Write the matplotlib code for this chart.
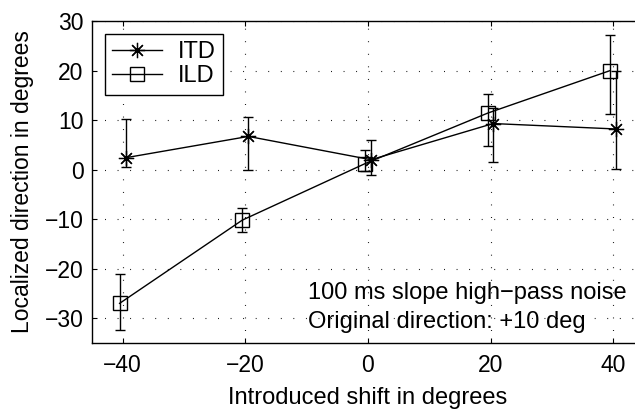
import numpy as np
import matplotlib
matplotlib.use("Agg")
import matplotlib.pyplot as plt

plt.rcParams['font.family'] = ['Liberation Sans', 'DejaVu Sans']

# values (small x offsets so the bars do not overlap)
itd_x = [-39.5, -19.5, 0.5, 20.4, 40.5]
itd_y = [2.4, 6.7, 2.0, 9.3, 8.2]
itd_lo = [0.6, 0.0, -1.1, 1.5, 0.1]
itd_hi = [10.3, 10.6, 6.0, 12.5, 20.0]

ild_x = [-40.5, -20.5, -0.5, 19.5, 39.5]
ild_y = [-27.0, -10.2, 1.2, 11.4, 20.0]
ild_lo = [-32.4, -12.6, -0.2, 4.8, 11.2]
ild_hi = [-21.0, -7.7, 4.0, 15.3, 27.1]

x_ticks = [-40, -20, 0, 20, 40]
y_ticks = [-30, -20, -10, 0, 10, 20, 30]

fig = plt.figure(figsize=(6.35, 4.09), dpi=100)
ax = fig.add_axes([92 / 635, 66 / 409, 552 / 635, 322 / 409])

asterisk = (8, 2, 0)

itd_err = [np.array(itd_y) - np.array(itd_lo), np.array(itd_hi) - np.array(itd_y)]
ild_err = [np.array(ild_y) - np.array(ild_lo), np.array(ild_hi) - np.array(ild_y)]

ax.errorbar(itd_x, itd_y, yerr=itd_err, fmt='none', ecolor='k', elinewidth=1.0, capsize=3.6, capthick=1.0)
ax.errorbar(ild_x, ild_y, yerr=ild_err, fmt='none', ecolor='k', elinewidth=1.0, capsize=3.6, capthick=1.0)
ax.plot(itd_x, itd_y, color='k', lw=1.0, marker=asterisk, markersize=11, markeredgewidth=0.9, label='ITD')
ax.plot(ild_x, ild_y, color='k', lw=1.0, marker='s', markersize=9.5, markerfacecolor='none',
        markeredgewidth=1.0, label='ILD')

ax.set_xlim(-45, 45)
ax.set_ylim(-35, 30)
ax.set_xticks(x_ticks)
ax.set_yticks(y_ticks)
ax.set_xticklabels([str(t).replace('-', '\u2212') for t in x_ticks])
ax.set_yticklabels([str(t).replace('-', '\u2212') for t in y_ticks])
ax.tick_params(direction='in', length=3.5, width=0.8, top=True, right=True, labelsize=16.5)
ax.tick_params(axis='x', pad=8)
ax.tick_params(axis='y', pad=6)
ax.grid(True, color='k', linestyle=(0, (0.8, 10.5)), linewidth=0.8)
for s in ax.spines.values():
    s.set_linewidth(1.0)

ax.set_xlabel('Introduced shift in degrees', fontsize=17, labelpad=7)
ax.set_ylabel('Localized direction in degrees', fontsize=16.5, labelpad=8)

ax.text(-9.8, -25.0, '100 ms slope high\u2212pass noise', fontsize=17, va='center', ha='left')
ax.text(-9.8, -30.8, 'Original direction: +10 deg', fontsize=17, va='center', ha='left')

leg = ax.legend(loc='upper left', fontsize=17, fancybox=False, framealpha=1, edgecolor='k',
                handlelength=2.1, handletextpad=0.7, borderaxespad=0.55, borderpad=0.3, labelspacing=0.1)
leg.get_frame().set_linewidth(1.0)

fig.savefig('out.png', dpi=100)
